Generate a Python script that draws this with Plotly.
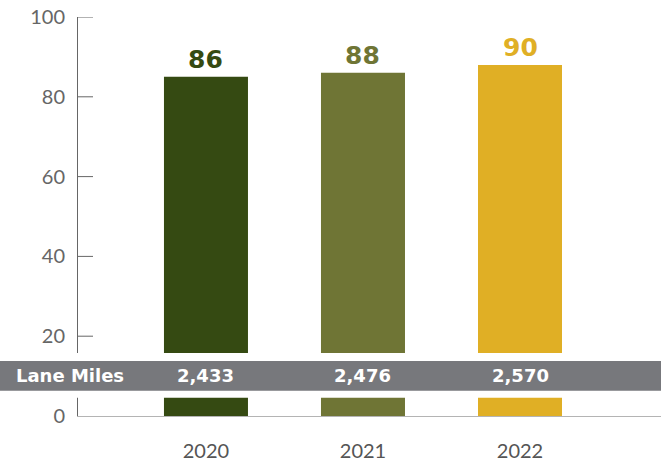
import plotly.graph_objects as go

years = ["2020", "2021", "2022"]
bar_values = [85, 86, 88]
bar_labels = ["86", "88", "90"]
lane_miles = ["2,433", "2,476", "2,570"]
bar_colors = ["#354a12", "#6f7535", "#e0af25"]
y_ticks = [0, 20, 40, 60, 80, 100]

fig = go.Figure()
fig.add_trace(go.Bar(
    x=years, y=bar_values, marker=dict(color=bar_colors, line=dict(width=0)),
    width=0.535, hoverinfo="skip"))

# bar value labels
for i, (v, lab, c) in enumerate(zip(bar_values, bar_labels, bar_colors)):
    fig.add_annotation(x=i, y=v, text="<b>%s</b>" % lab, showarrow=False,
                       yanchor="bottom", yshift=1,
                       font=dict(family="DejaVu Sans", size=25, color=c))

# inward tick marks on the y axis
for t in y_ticks[1:]:
    fig.add_shape(type="line", xref="paper", yref="y", x0=0, x1=15 / 583,
                  y0=t, y1=t, line=dict(color="#666666", width=1), layer="above")

# white gap + grey band
fig.add_shape(type="rect", xref="paper", yref="y", x0=-0.2, x1=1.0,
              y0=4.55, y1=15.76, fillcolor="white", line=dict(width=0), layer="above")
fig.add_shape(type="rect", xref="paper", yref="y", x0=-0.2, x1=1.0,
              y0=6.3, y1=13.8, fillcolor="#77787c", line=dict(width=0), layer="above")
fig.add_annotation(xref="paper", yref="y", x=(14 - 78) / 583, y=10.05, xanchor="left",
                   text="<b>Lane Miles</b>", showarrow=False,
                   font=dict(family="DejaVu Sans", size=18, color="white"))
for i, lm in enumerate(lane_miles):
    fig.add_annotation(x=i, y=10.05, text="<b>%s</b>" % lm, showarrow=False,
                       font=dict(family="DejaVu Sans", size=18, color="white"))

fig.update_layout(
    width=661, height=462,
    margin=dict(l=78, r=0, t=17, b=44),
    paper_bgcolor="white", plot_bgcolor="white",
    showlegend=False,
    xaxis=dict(type="category", range=[-0.815, 2.898], showgrid=False, zeroline=False,
               showline=True, linecolor="#b4b4b4", linewidth=1, ticks="",
               tickfont=dict(family="Lato", size=20, color="#555555"),
               ticklabelstandoff=17),
    yaxis=dict(range=[0, 100], tickvals=y_ticks, showgrid=False, zeroline=False,
               showline=True, linecolor="#666666", linewidth=1, ticks="",
               tickfont=dict(family="Lato", size=20, color="#666666"),
               ticklabelstandoff=8),
)

fig.write_html("out.html")
